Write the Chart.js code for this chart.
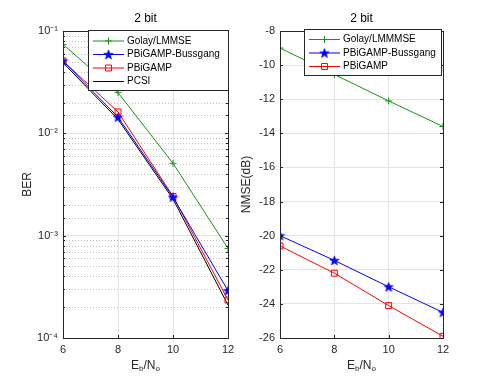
<!DOCTYPE html>
<html>
<head>
<meta charset="utf-8">
<script src="https://cdn.jsdelivr.net/npm/chart.js@4"></script>
<style>
  body { margin: 0; background: #fff; width: 491px; height: 380px; overflow: hidden; position: relative; }
  canvas { position: absolute; top: 0; }
  #ber { left: 0; }
  #nmse { left: 232px; }
</style>
</head>
<body>
<canvas id="ber" width="245" height="380"></canvas>
<canvas id="nmse" width="259" height="380"></canvas>
<script>
// data
const snr = [6, 8, 10, 12];
const berGolay = [0.074, 0.025, 0.0051, 0.00075];
const berBussgang = [0.051, 0.0144, 0.00238, 0.00029];
const berPbigamp = [0.051, 0.0162, 0.00242, 0.000235];
const berPcsi = [0.049, 0.0137, 0.00228, 0.00021];
const nmseGolay = [-9.0, -10.55, -12.1, -13.6];
const nmseBussgang = [-20.0, -21.45, -23.0, -24.5];
const nmsePbigamp = [-20.6, -22.2, -24.1, -25.9];
const snrTicks = [6, 8, 10, 12];
const berTickLabels = ['10⁻⁴', '10⁻³', '10⁻²', '10⁻¹'];
const nmseTicks = [-26, -24, -22, -20, -18, -16, -14, -12, -10, -8];

Chart.defaults.font.family = '"Liberation Sans", Arial, sans-serif';
Chart.defaults.color = '#262626';

const GREEN = 'rgb(20,150,20)';
const BLUE = 'rgb(0,0,255)';
const RED = 'rgb(255,0,0)';
const BLACK = 'rgb(0,0,0)';

// pentagram marker (MATLAB 'p')
function pentagram(color) {
    const c = document.createElement('canvas');
    c.width = 11; c.height = 11;
    const g = c.getContext('2d');
    g.beginPath();
    for (let i = 0; i < 10; i++) {
        const r = i % 2 === 0 ? 5 : 2.1;
        const a = -Math.PI / 2 + i * Math.PI / 5;
        const px = 5.5 + r * Math.cos(a), py = 5.9 + r * Math.sin(a);
        if (i === 0) g.moveTo(px, py); else g.lineTo(px, py);
    }
    g.closePath();
    g.fillStyle = color;
    g.fill();
    g.strokeStyle = color;
    g.lineWidth = 0.6;
    g.stroke();
    return c;
}
const starImg = pentagram(BLUE);

function pts(ys) { return snr.map((x, i) => ({ x: x, y: ys[i] })); }

function series(label, ys, color, style, radius) {
    return {
        label: label,
        data: pts(ys),
        borderColor: color,
        backgroundColor: 'rgba(0,0,0,0)',
        borderWidth: 1,
        pointStyle: style,
        pointRadius: radius,
        pointBorderColor: color,
        pointBorderWidth: 1,
        pointBackgroundColor: 'rgba(0,0,0,0)',
        tension: 0
    };
}

const isPow10 = v => Math.abs(Math.log10(v) - Math.round(Math.log10(v))) < 1e-6;

// dotted minor grid for the log axis
const minorGrid = {
    id: 'minorGrid',
    beforeDatasetsDraw(chart, args, opts) {
        if (!opts.on) return;
        const ctx = chart.ctx, a = chart.chartArea, ys = chart.scales.y;
        ctx.save();
        ctx.strokeStyle = '#c4c4c4';
        ctx.lineWidth = 1;
        ctx.setLineDash([1, 2]);
        ctx.beginPath();
        ys.ticks.forEach(t => {
            if (isPow10(t.value)) return;
            const py = Math.round(ys.getPixelForValue(t.value)) + 0.5;
            ctx.moveTo(a.left, py); ctx.lineTo(a.right, py);
        });
        ctx.stroke();
        ctx.restore();
    }
};

// box, inward ticks, title, x label and legend drawn in MATLAB style
const matlabBox = {
    id: 'matlabBox',
    afterDraw(chart, args, opts) {
        const ctx = chart.ctx;
        const a = chart.chartArea;
        const xs = chart.scales.x, ys = chart.scales.y;
        ctx.save();
        ctx.strokeStyle = '#262626';
        ctx.lineWidth = 1;
        // ticks
        ctx.beginPath();
        snrTicks.forEach(v => {
            const px = Math.round(xs.getPixelForValue(v)) + 0.5;
            ctx.moveTo(px, a.bottom); ctx.lineTo(px, a.bottom - 3);
            ctx.moveTo(px, a.top); ctx.lineTo(px, a.top + 3);
        });
        ys.ticks.forEach(t => {
            const py = Math.round(ys.getPixelForValue(t.value)) + 0.5;
            const len = (opts.log && !isPow10(t.value)) ? 2 : 3;
            ctx.moveTo(a.left, py); ctx.lineTo(a.left + len, py);
            ctx.moveTo(a.right, py); ctx.lineTo(a.right - len, py);
        });
        ctx.stroke();
        ctx.strokeRect(Math.round(a.left) + 0.5, Math.round(a.top) + 0.5,
            Math.round(a.right - a.left), Math.round(a.bottom - a.top));

        // title
        ctx.fillStyle = '#000';
        ctx.textAlign = 'center';
        ctx.textBaseline = 'middle';
        ctx.font = '12px "Liberation Sans", Arial, sans-serif';
        const cx = (a.left + a.right) / 2;
        ctx.fillText(opts.title, cx, 19);

        // x label E_b/N_o
        const big = '12px "Liberation Sans", Arial, sans-serif';
        const small = '8px "Liberation Sans", Arial, sans-serif';
        const parts = [['E', big, 0], ['b', small, 3], ['/N', big, 0], ['o', small, 3]];
        let total = 0;
        parts.forEach(p => { ctx.font = p[1]; total += ctx.measureText(p[0]).width; });
        let x = cx - total / 2;
        ctx.textAlign = 'left';
        ctx.fillStyle = '#262626';
        parts.forEach(p => {
            ctx.font = p[1];
            ctx.fillText(p[0], x, 366 + p[2]);
            x += ctx.measureText(p[0]).width;
        });

        // legend
        const L = opts.legend;
        const ds = chart.data.datasets;
        ctx.fillStyle = '#fff';
        ctx.fillRect(L.x, L.y, L.w, L.h);
        ctx.strokeStyle = '#262626';
        ctx.strokeRect(L.x + 0.5, L.y + 0.5, L.w, L.h);
        ctx.font = '10px "Liberation Sans", Arial, sans-serif';
        ctx.textBaseline = 'middle';
        ds.forEach((d, i) => {
            const y = L.y + L.first + i * L.row;
            ctx.strokeStyle = d.borderColor;
            ctx.lineWidth = 1;
            ctx.beginPath();
            ctx.moveTo(L.x + 5, y + 0.5);
            ctx.lineTo(L.x + 36, y + 0.5);
            ctx.stroke();
            if (d.pointRadius > 0) {
                ctx.fillStyle = 'rgba(0,0,0,0)';
                Chart.helpers.drawPoint(ctx, {
                    pointStyle: d.pointStyle, radius: d.pointRadius, rotation: 0, borderWidth: 1
                }, L.x + 20.5, y + 0.5);
            }
            ctx.fillStyle = '#000';
            ctx.fillText(d.label, L.x + 39, y + 0.5);
        });
        ctx.restore();
    }
};

function xScale() {
    return {
        type: 'linear',
        min: 6, max: 12,
        afterFit: s => { s.height = 42; },
        afterBuildTicks: s => { s.ticks = snrTicks.map(v => ({ value: v })); },
        ticks: { padding: 5, font: { size: 11 }, color: '#262626' },
        grid: { color: '#e3e3e3', drawTicks: false },
        border: { display: false }
    };
}

new Chart(document.getElementById('ber'), {
    type: 'line',
    data: {
        datasets: [
            series('Golay/LMMSE', berGolay, GREEN, 'cross', 3.5),
            series('PBiGAMP-Bussgang', berBussgang, BLUE, starImg, 5),
            series('PBiGAMP', berPbigamp, RED, 'rect', 4.2),
            series('PCSI', berPcsi, BLACK, 'circle', 0)
        ]
    },
    options: {
        responsive: false,
        animation: false,
        layout: { padding: { top: 31, left: 0, right: 17, bottom: 0 } },
        plugins: {
            legend: { display: false },
            tooltip: { enabled: false },
            minorGrid: { on: true },
            matlabBox: {
                title: '2 bit', log: true,
                legend: { x: 88, y: 30, w: 140, h: 60, first: 10.5, row: 13.5 }
            }
        },
        scales: {
            x: xScale(),
            y: {
                type: 'logarithmic',
                min: 1e-4, max: 1e-1,
                afterFit: s => { s.width = 63; },
                ticks: {
                    autoSkip: false,
                    padding: 5,
                    font: { size: 11 },
                    color: '#262626',
                    callback: v => isPow10(v) ? berTickLabels[Math.round(Math.log10(v)) + 4] : ''
                },
                grid: {
                    drawTicks: false,
                    color: c => isPow10(c.tick.value) ? '#e3e3e3' : 'rgba(0,0,0,0)'
                },
                border: { display: false },
                title: { display: true, text: 'BER', font: { size: 12 }, padding: { top: 20, bottom: 0 }, color: '#262626' }
            }
        }
    },
    plugins: [minorGrid, matlabBox]
});

new Chart(document.getElementById('nmse'), {
    type: 'line',
    data: {
        datasets: [
            series('Golay/LMMMSE', nmseGolay, GREEN, 'cross', 3.5),
            series('PBiGAMP-Bussgang', nmseBussgang, BLUE, starImg, 5),
            series('PBiGAMP', nmsePbigamp, RED, 'rect', 4.2)
        ]
    },
    options: {
        responsive: false,
        animation: false,
        layout: { padding: { top: 31, left: 0, right: 48, bottom: 0 } },
        plugins: {
            legend: { display: false },
            tooltip: { enabled: false },
            matlabBox: {
                title: '2 bit', log: false,
                legend: { x: 72, y: 29, w: 137, h: 46, first: 10, row: 13.5 }
            }
        },
        scales: {
            x: xScale(),
            y: {
                type: 'linear',
                min: -26, max: -8,
                afterFit: s => { s.width = 48; },
                afterBuildTicks: s => { s.ticks = nmseTicks.map(v => ({ value: v })); },
                ticks: { padding: 5, font: { size: 11 }, color: '#262626' },
                grid: { drawTicks: false, color: '#e3e3e3' },
                border: { display: false },
                title: { display: true, text: 'NMSE(dB)', font: { size: 12 }, padding: { top: 7, bottom: 0 }, color: '#262626' }
            }
        }
    },
    plugins: [matlabBox]
});
</script>
</body>
</html>
